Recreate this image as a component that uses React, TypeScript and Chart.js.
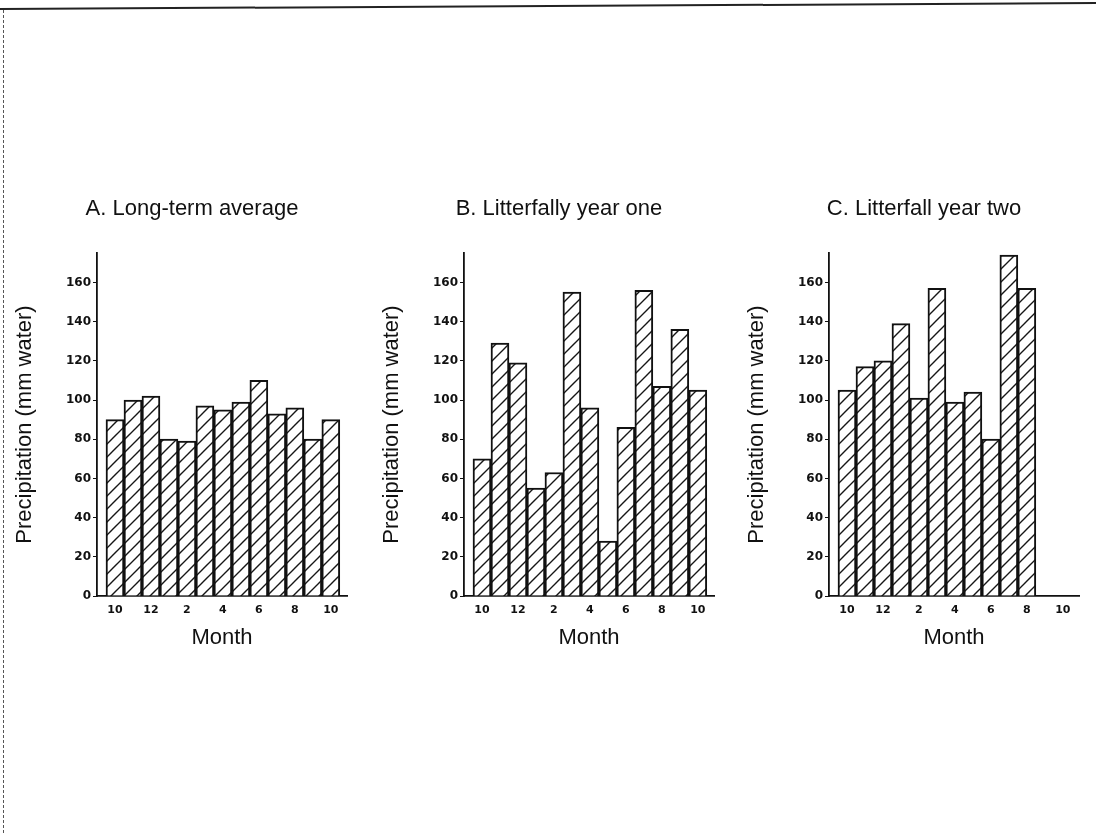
import React, { useEffect, useRef } from 'react';
import { Chart, registerables } from 'chart.js';

Chart.register(...registerables);

// ---- data ----
const monthLabels = ['10', '11', '12', '1', '2', '3', '4', '5', '6', '7', '8', '9', '10'];
const longTermAverage = [90, 100, 102, 80, 79, 97, 95, 99, 110, 93, 96, 80, 90];
const litterfallYearOne = [70, 129, 119, 55, 63, 155, 96, 28, 86, 156, 107, 136, 105];
const litterfallYearTwo = [105, 117, 120, 139, 101, 157, 99, 104, 80, 174, 157, null, null];
const panelTitles = ['A. Long-term average', 'B. Litterfally year one', 'C. Litterfall year two'];
const yAxisTitle = 'Precipitation (mm water)';
const xAxisTitle = 'Month';
const yTicks = { min: 0, max: 175, step: 20 };

const panelSeries = [longTermAverage, litterfallYearOne, litterfallYearTwo];
const panelLefts = [7, 374, 739];

const INK = '#111111';
const SANS = '"Liberation Sans", Arial, Helvetica, sans-serif';
const TICKFONT = '"DejaVu Sans", sans-serif';

function makeHatch(): CanvasPattern | string {
  const size = 13;
  const c = document.createElement('canvas');
  c.width = size;
  c.height = size;
  const ctx = c.getContext('2d');
  if (!ctx) return '#fff';
  ctx.fillStyle = '#ffffff';
  ctx.fillRect(0, 0, size, size);
  ctx.strokeStyle = '#161616';
  ctx.lineWidth = 1.4;
  ctx.beginPath();
  ctx.moveTo(-1, size + 1);
  ctx.lineTo(size + 1, -1);
  ctx.moveTo(-3, 3);
  ctx.lineTo(3, -3);
  ctx.moveTo(size - 3, size + 3);
  ctx.lineTo(size + 3, size - 3);
  ctx.stroke();
  const p = ctx.createPattern(c, 'repeat');
  return p || '#fff';
}

function Panel({ title, values, left }: { title: string; values: (number | null)[]; left: number }) {
  const ref = useRef<HTMLCanvasElement | null>(null);
  useEffect(() => {
    if (!ref.current) return;
    const hatch = makeHatch();
    const chart = new Chart(ref.current, {
      type: 'bar',
      data: {
        datasets: [
          {
            data: values.map((v, i) => ({ x: i, y: v })) as any,
            backgroundColor: hatch as any,
            borderColor: INK,
            borderWidth: 2,
            barPercentage: 1,
            categoryPercentage: 1,
            borderSkipped: 'start',
          },
        ],
      },
      options: {
        animation: false,
        responsive: false,
        events: [],
        layout: { padding: 0 },
        plugins: {
          legend: { display: false },
          tooltip: { enabled: false },
          title: {
            display: true,
            text: title,
            color: INK,
            font: { family: SANS, size: 22, weight: 'normal' },
            padding: { top: 16, bottom: 30.6 },
          },
        },
        scales: {
          x: {
            type: 'linear',
            min: -1,
            max: 12.9,
            offset: false,
            grid: { display: false, drawTicks: false, offset: false },
            border: { display: true, color: INK, width: 1.8 },
            ticks: {
              stepSize: 2,
              includeBounds: false,
              autoSkip: false,
              maxRotation: 0,
              padding: 8,
              color: INK,
              font: { family: TICKFONT, size: 11, weight: 'bold' },
              callback: (v: any) => monthLabels[Number(v)] ?? '',
            },
            title: {
              display: true,
              text: xAxisTitle,
              color: INK,
              font: { family: SANS, size: 22 },
              padding: { top: 0, bottom: 5 },
            },
            afterFit: (s: any) => {
              s.height = 60;
            },
          },
          y: {
            type: 'linear',
            position: 'left',
            min: yTicks.min,
            max: yTicks.max,
            grid: { drawOnChartArea: false, drawTicks: true, tickLength: 4, color: INK, lineWidth: 1 },
            border: { display: true, color: INK, width: 1.8 },
            ticks: {
              stepSize: yTicks.step,
              includeBounds: false,
              padding: 2,
              color: INK,
              font: { family: TICKFONT, size: 12, weight: 'bold' },
            },
            title: {
              display: true,
              text: yAxisTitle,
              color: INK,
              font: { family: SANS, size: 22 },
              padding: { top: 5, bottom: 0 },
            },
            afterFit: (s: any) => {
              s.width = 90;
            },
          },
          spacer: {
            type: 'linear',
            position: 'right',
            display: true,
            grid: { display: false, drawTicks: false },
            border: { display: false },
            ticks: { display: false },
            afterFit: (s: any) => {
              s.width = 30;
            },
          },
        },
      } as any,
    });
    return () => chart.destroy();
  }, [title, values]);
  return (
    <canvas
      ref={ref}
      width={370}
      height={476}
      style={{ position: 'absolute', left, top: 180, width: 370, height: 476 }}
    />
  );
}

export default function App() {
  return (
    <div
      style={{
        position: 'absolute',
        left: 0,
        top: 0,
        width: 1096,
        height: 833,
        background: '#fff',
        overflow: 'hidden',
      }}
    >
      <div
        style={{
          position: 'absolute',
          left: 0,
          top: 8,
          width: 1096,
          height: 2,
          background: '#222',
          transform: 'rotate(-0.31deg)',
          transformOrigin: 'left center',
        }}
      />
      <div
        style={{
          position: 'absolute',
          left: 3,
          top: 10,
          width: 0,
          height: 823,
          borderLeft: '1px dashed #555',
        }}
      />
      {panelTitles.map((t, i) => (
        <Panel key={t} title={t} values={panelSeries[i]} left={panelLefts[i]} />
      ))}
    </div>
  );
}
